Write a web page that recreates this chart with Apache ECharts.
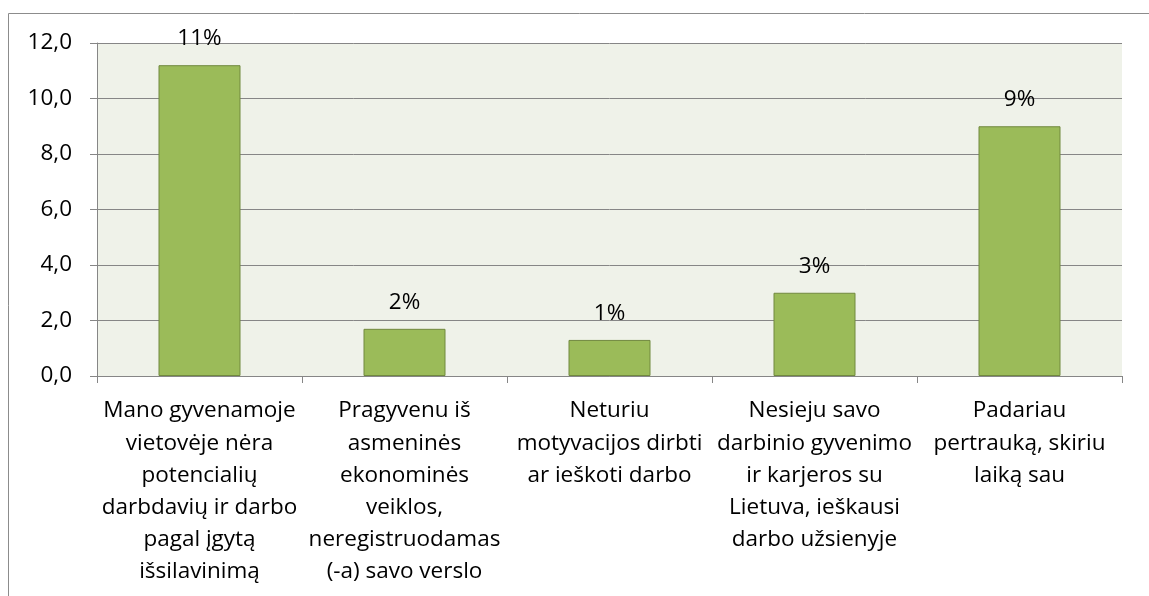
<!DOCTYPE html>
<html>
<head>
<meta charset="utf-8">
<script src="https://cdn.jsdelivr.net/npm/echarts@6/dist/echarts.min.js"></script>
<style>
  html, body { margin: 0; padding: 0; background: #fff; }
  #chart { width: 1149px; height: 596px; }
</style>
</head>
<body>
<div id="chart"></div>
<script>
const categories = [
  'Mano gyvenamoje\nvietovėje nėra\npotencialių\ndarbdavių ir darbo\npagal įgytą\nišsilavinimą',
  'Pragyvenu iš\nasmeninės\nekonominės\nveiklos,\nneregistruodamas\n(-a) savo verslo',
  'Neturiu\nmotyvacijos dirbti\nar ieškoti darbo',
  'Nesieju savo\ndarbinio gyvenimo\nir karjeros su\nLietuva, ieškausi\ndarbo užsienyje',
  'Padariau\npertrauką, skiriu\nlaiką sau'
]
const values = [11.2, 1.7, 1.3, 3.0, 9.0]
const barLabels = ['11%', '2%', '1%', '3%', '9%']

const font = '"Open Sans", "Noto Sans", sans-serif'
const chart = echarts.init(document.getElementById('chart'))

const option = {
  animation: false,
  textStyle: { fontFamily: font },
  graphic: [
    {
      type: 'rect',
      shape: { x: 8.5, y: 13.5, width: 1200, height: 700 },
      style: { fill: 'none', stroke: '#8c8c8c', lineWidth: 1 },
      silent: true
    }
  ],
  grid: {
    left: 97,
    right: 27,
    top: 43,
    bottom: 220,
    show: true,
    backgroundColor: '#eff2e9',
    borderWidth: 0
  },
  xAxis: {
    type: 'category',
    data: categories,
    axisLine: { show: true, lineStyle: { color: '#868686', width: 1 } },
    axisTick: { show: true, length: 7, alignWithLabel: false, lineStyle: { color: '#868686' } },
    axisLabel: {
      interval: 0,
      color: '#000',
      fontSize: 22.5,
      lineHeight: 32.1,
      margin: 19,
      fontFamily: font
    }
  },
  yAxis: {
    type: 'value',
    min: 0,
    max: 12,
    interval: 2,
    axisLine: { show: true, lineStyle: { color: '#868686', width: 1 } },
    axisTick: { show: true, length: 7, lineStyle: { color: '#868686' } },
    splitLine: { show: true, lineStyle: { color: '#868686', width: 1 } },
    axisLabel: {
      color: '#000',
      fontSize: 22.5,
      margin: 25,
      fontFamily: font,
      formatter: v => v.toFixed(1).replace('.', ',')
    }
  },
  series: [
    {
      type: 'bar',
      data: values,
      barWidth: '40%',
      itemStyle: { color: '#9bbb59', borderColor: '#71893f', borderWidth: 1 },
      label: {
        show: true,
        position: 'top',
        distance: 15,
        color: '#000',
        fontSize: 22.5,
        fontFamily: font,
        formatter: p => barLabels[p.dataIndex]
      }
    }
  ]
}
chart.setOption(option)
</script>
</body>
</html>
